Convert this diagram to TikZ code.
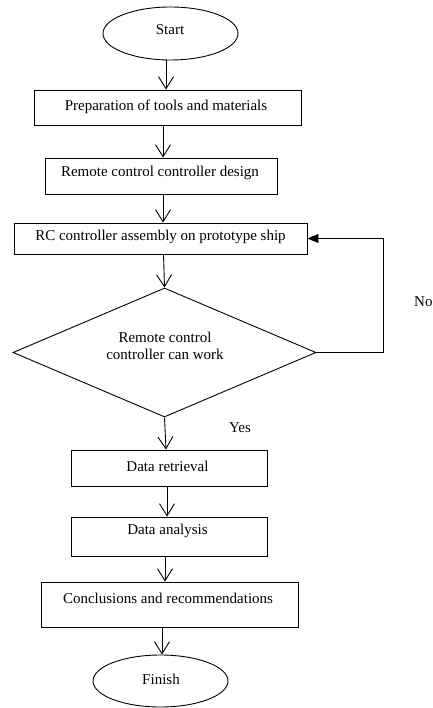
\documentclass[tikz,border=0pt]{standalone}
\usepackage{fontspec}
\setmainfont{Liberation Serif}
\usetikzlibrary{arrows.meta,shapes.geometric}
\tikzset{
  box/.style={draw, rectangle, line width=0.9pt, inner sep=0pt},
  term/.style={draw, ellipse, line width=0.9pt, inner sep=0pt},
  dec/.style={draw, diamond, line width=0.9pt, inner sep=0pt},
  lbl/.style={inner sep=0pt, font=\fontsize{15}{17}\selectfont, align=center},
  arr/.style={line width=0.9pt, -{Straight Barb[length=12pt,width=15pt,line width=0.9pt]}},
  farr/.style={line width=0.9pt, -{Triangle[length=11pt,width=9pt]}}
}
\begin{document}
\begin{tikzpicture}[x=1pt,y=-1pt]
\useasboundingbox[fill=white] (0,0) rectangle (432,708);
% shapes
\node[term, minimum width=135, minimum height=53] (start) at (170.5,33.5) {};
\node[lbl] (tstart) at (170,30) {Start};
\node[box, minimum width=267, minimum height=35] (b1) at (167.5,107.5) {};
\node[lbl] (t1) at (166,107) {Preparation of tools and materials};
\node[box, minimum width=232, minimum height=36] (b2) at (161,176) {};
\node[lbl] (t2) at (160,173) {Remote control controller design};
\node[box, minimum width=293, minimum height=31] (b3) at (160.5,238.5) {};
\node[lbl] (t3) at (160.5,237) {RC controller assembly on prototype ship};
\node[dec, minimum width=303, minimum height=129] (d) at (164.5,352.5) {};
\node[lbl] (td) at (165,345.5) {Remote control\\controller can work};
\node[box, minimum width=196, minimum height=36] (b4) at (169,468) {};
\node[lbl] (t4) at (167.5,466) {Data retrieval};
\node[box, minimum width=196, minimum height=39] (b5) at (169,536.5) {};
\node[lbl] (t5) at (167.5,531) {Data analysis};
\node[box, minimum width=257, minimum height=45] (b6) at (169.5,604.5) {};
\node[lbl] (t6) at (168,598) {Conclusions and recommendations};
\node[term, minimum width=135, minimum height=52] (fin) at (160.5,681) {};
\node[lbl] (tfin) at (161,679) {Finish};
\node[lbl] (yes) at (240,428) {Yes};
\node[lbl, anchor=west] (no) at (414,302) {No};
% connectors
\draw[arr] (166,0 |- start.south) -- (166,0 |- b1.north);
\draw[arr] (163,0 |- b1.south) -- (163,0 |- b2.north);
\draw[arr] (163,0 |- b2.south) -- (163,0 |- b3.north);
\draw[arr] (163.5,0 |- b3.south) -- (d.north);
\draw[arr] (d.south) -- (166,0 |- b4.north);
\draw[arr] (167,0 |- b4.south) -- (167,0 |- b5.north);
\draw[arr] (165,0 |- b5.south) -- (165,0 |- b6.north);
\draw[arr] (162,0 |- b6.south) -- (162,0 |- fin.north);
\coordinate (c1) at (383,0 |- d.east);
\coordinate (c2) at (383,0 |- b3.east);
\draw[farr] (d.east) -- (c1) -- (c2) -- (b3.east);
\end{tikzpicture}
\end{document}
